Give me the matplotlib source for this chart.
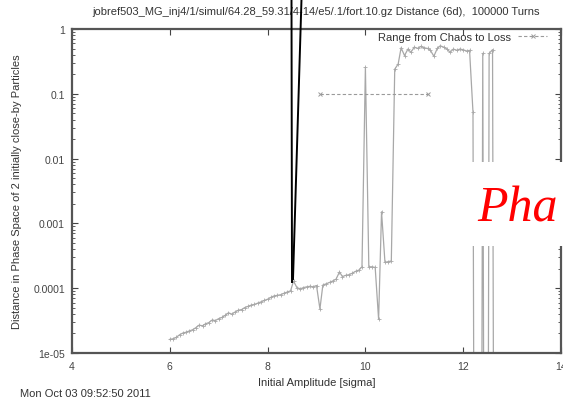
import matplotlib
matplotlib.use('Agg')
import matplotlib.pyplot as plt
from matplotlib.lines import Line2D
from matplotlib.patches import Rectangle
from matplotlib.ticker import FixedLocator, FixedFormatter, LogLocator, NullFormatter

plt.rcParams['font.family'] = ['Liberation Sans', 'DejaVu Sans']

# amplitude scan (sigma) and distance after 100000 turns
amplitude = [
    6.00, 6.07, 6.13, 6.20, 6.27, 6.33, 6.40, 6.47, 6.53, 6.60,
    6.67, 6.73, 6.80, 6.87, 6.93, 7.00, 7.07, 7.13, 7.20, 7.27,
    7.33, 7.40, 7.47, 7.53, 7.60, 7.67, 7.73, 7.80, 7.87, 7.93,
    8.00, 8.07, 8.13, 8.20, 8.27, 8.33, 8.40, 8.47, 8.53, 8.60,
    8.67, 8.73, 8.80, 8.87, 8.93, 9.00, 9.07, 9.13, 9.20, 9.27,
    9.33, 9.40, 9.47, 9.53, 9.60, 9.67, 9.73, 9.80, 9.87, 9.93,
    10.00, 10.07, 10.13, 10.20, 10.27, 10.33, 10.40, 10.47, 10.53, 10.60,
    10.67, 10.73, 10.80, 10.87, 10.93, 11.00, 11.07, 11.13, 11.20, 11.27,
    11.33, 11.40, 11.47, 11.53, 11.60, 11.67, 11.73, 11.80, 11.87, 11.93,
    12.00, 12.07, 12.13, 12.20, 12.27, 12.33, 12.40, 12.47, 12.53, 12.60,
    12.67,
]
distance = [
    1.62e-5, 1.66e-5, 1.74e-5, 1.91e-5, 2.04e-5, 2.09e-5, 2.19e-5, 2.29e-5, 2.45e-5, 2.69e-5,
    2.63e-5, 2.82e-5, 2.95e-5, 3.24e-5, 3.16e-5, 3.39e-5, 3.55e-5, 3.80e-5, 4.17e-5, 3.98e-5,
    4.27e-5, 4.57e-5, 4.68e-5, 5.01e-5, 5.25e-5, 5.50e-5, 5.62e-5, 5.89e-5, 6.17e-5, 6.46e-5,
    6.76e-5, 7.24e-5, 7.59e-5, 7.76e-5, 7.94e-5, 8.32e-5, 8.71e-5, 9.12e-5, 1.29e-4, 1.02e-4,
    9.77e-5, 1.02e-4, 1.05e-4, 1.07e-4, 1.05e-4, 1.10e-4, 4.79e-5, 1.12e-4, 1.17e-4, 1.23e-4,
    1.29e-4, 1.38e-4, 1.78e-4, 1.51e-4, 1.58e-4, 1.62e-4, 1.70e-4, 1.82e-4, 1.91e-4, 2.14e-4,
    0.257, 2.14e-4, 2.14e-4, 2.09e-4, 3.31e-5, 1.51e-3, 2.51e-4, 2.57e-4, 2.63e-4, 0.240,
    0.288, 0.513, 0.389, 0.490, 0.437, 0.525, 0.501, 0.537, 0.513, 0.501,
    0.468, 0.380, 0.501, 0.550, 0.525, 0.490, 0.437, 0.490, 0.468, 0.490,
    0.479, 0.457, 0.468, 0.0525, 1e-20, 1e-20, 0.42, 1e-20, 0.42, 0.48,
    1e-20,
]

# chaos onset -> loss
range_amp = [9.07, 11.27]
range_dist = [0.1, 0.1]

xticks = [4, 6, 8, 10, 12, 14]
yticks = [1e-5, 1e-4, 1e-3, 1e-2, 1e-1, 1]
ytick_labels = ['1e-05', '0.0001', '0.001', '0.01', '0.1', '1']

title = 'jobref503_MG_inj4/1/simul/64.28_59.31/4-14/e5/.1/fort.10.gz Distance (6d),  100000 Turns'
stamp = 'Mon Oct 03 09:52:50 2011'

W, H = 563, 402
fig = plt.figure(figsize=(W / 100, H / 100), dpi=100)
ax = fig.add_axes([72 / W, 1 - 354 / H, (561 - 72) / W, (354 - 30) / H])

ax.plot(amplitude, distance, '-', color='#a8a8a8', lw=0.9,
        marker='+', ms=2.5, mew=0.6)
ax.plot(range_amp, range_dist, '--', color='#9a9a9a', lw=0.8, dashes=(3, 2),
        marker='x', ms=3.5, mew=0.7, label='Range from Chaos to Loss')

ax.set_yscale('log')
ax.set_xlim(4, 14)
ax.set_ylim(1e-5, 1)
ax.xaxis.set_major_locator(FixedLocator(xticks))
ax.yaxis.set_major_locator(FixedLocator(yticks))
ax.yaxis.set_major_formatter(FixedFormatter(ytick_labels))
ax.yaxis.set_minor_locator(LogLocator(base=10, subs=(2, 3, 4, 5, 6, 7, 8, 9)))
ax.yaxis.set_minor_formatter(NullFormatter())
ax.tick_params(which='both', direction='in', top=True, right=True,
               labelsize=7.5, colors='#444444')
ax.tick_params(axis='x', pad=6)
ax.tick_params(axis='y', pad=5)
ax.tick_params(which='major', length=4, width=0.8)
ax.tick_params(which='minor', length=2.5, width=0.6)
for s in ax.spines.values():
    s.set_color('#555555')
    s.set_linewidth(1.6)

ax.set_xlabel('Initial Amplitude [sigma]', fontsize=8, color='#333333')
ax.xaxis.set_label_coords(0.5, -(383 - 354) / 324, transform=ax.transAxes)
ax.set_ylabel('Distance in Phase Space of 2 initially close-by Particles',
              fontsize=8, color='#333333')
ax.yaxis.set_label_coords(-(72 - 17) / 489, 0.5, transform=ax.transAxes)
ax.yaxis.label.set_va('center')
ax.xaxis.label.set_va('center')
fig.text(316 / W, 1 - 12 / H, title, fontsize=8, color='#333333',
         ha='center', va='center')
fig.text(20 / W, 1 - 394 / H, stamp, fontsize=8, color='#333333',
         ha='left', va='center')

ax.legend(loc='upper right', bbox_to_anchor=(0.972, 0.99), frameon=False,
          markerfirst=False, fontsize=8, handlelength=2.6, handletextpad=0.7,
          borderpad=0, borderaxespad=0, labelcolor='#333333')

# white patch with red heading on top
fig.add_artist(Rectangle((470 / W, 1 - 247 / H), (W - 470) / W, 84 / H,
                         transform=fig.transFigure, facecolor='white',
                         edgecolor='none', zorder=5))
fig.text(477 / W, 1 - 222 / H, 'Pha', fontsize=36, color='red',
         family=['Liberation Serif', 'DejaVu Serif'], style='italic',
         ha='left', va='baseline', zorder=6)

# pen strokes
fig.add_artist(Line2D([291.5 / W, 292 / W], [1.0, 1 - 283 / H],
                      transform=fig.transFigure, color='black', lw=1.4, zorder=6))
fig.add_artist(Line2D([301.5 / W, 293 / W], [1.0, 1 - 280 / H],
                      transform=fig.transFigure, color='black', lw=1.4, zorder=6))

fig.savefig('out.png', dpi=100)
